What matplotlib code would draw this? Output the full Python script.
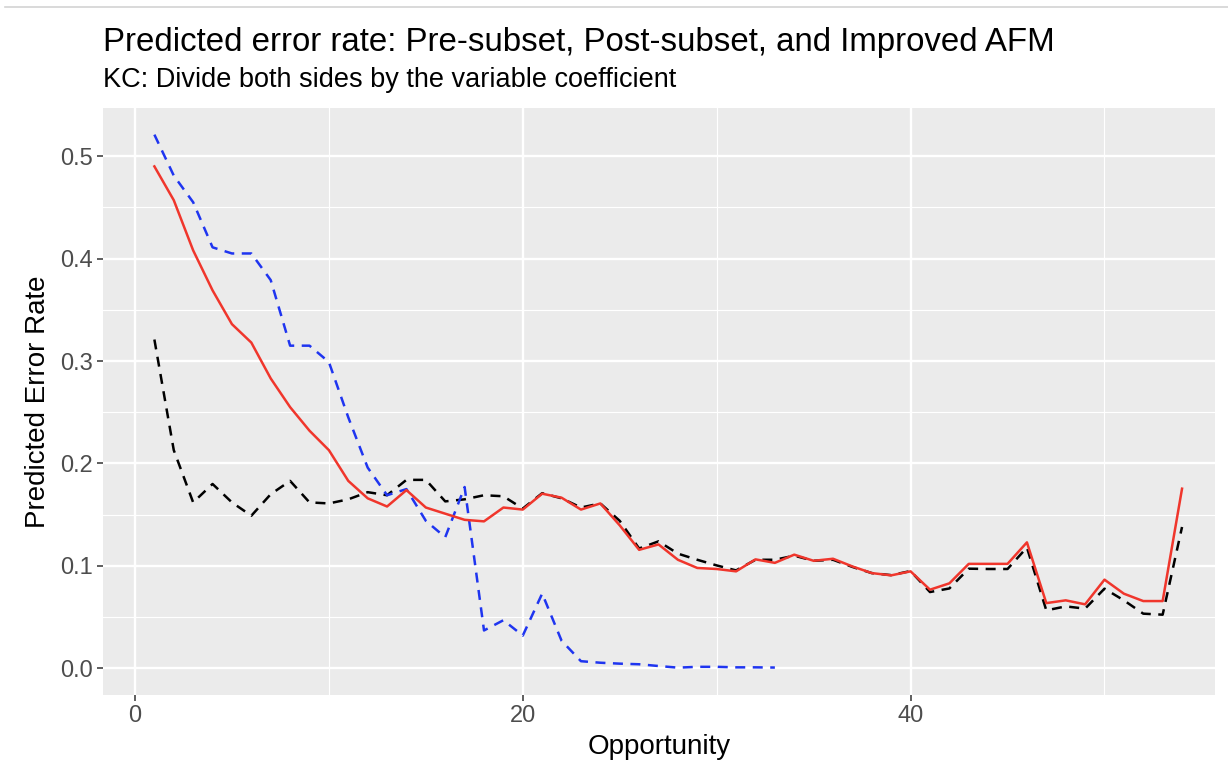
import matplotlib.pyplot as plt
from matplotlib.lines import Line2D
from matplotlib.ticker import MultipleLocator

plt.rcParams['font.family'] = ['Liberation Sans', 'DejaVu Sans']

# opportunity index for each series
opp_pre = list(range(1, 55))
opp_post = list(range(1, 34))
opp_imp = list(range(1, 55))

# pre-subset model (black dashed)
err_pre = [0.321, 0.213, 0.162, 0.180, 0.162, 0.149, 0.170, 0.183, 0.162, 0.161,
           0.165, 0.172, 0.169, 0.184, 0.184, 0.163, 0.165, 0.169, 0.168, 0.156,
           0.171, 0.166, 0.157, 0.161, 0.144, 0.117, 0.124, 0.112, 0.106, 0.1005,
           0.0956, 0.106, 0.106, 0.110, 0.105, 0.106, 0.099, 0.093, 0.091, 0.095,
           0.0745, 0.078, 0.0973, 0.097, 0.097, 0.118, 0.0566, 0.0605, 0.0583, 0.0778,
           0.0664, 0.0534, 0.0524, 0.138]

# post-subset model (blue dashed)
err_post = [0.521, 0.481, 0.455, 0.411, 0.405, 0.405, 0.379, 0.315, 0.315, 0.299,
            0.245, 0.196, 0.169, 0.175, 0.144, 0.128, 0.177, 0.037, 0.047, 0.032,
            0.073, 0.027, 0.007, 0.0055, 0.0046, 0.004, 0.0023, 0.0007, 0.0015, 0.0015,
            0.001, 0.001, 0.0008]

# improved AFM (red solid)
err_imp = [0.490, 0.457, 0.408, 0.369, 0.336, 0.318, 0.283, 0.255, 0.232, 0.213,
           0.183, 0.166, 0.158, 0.174, 0.157, 0.151, 0.145, 0.1435, 0.157, 0.155,
           0.1705, 0.1666, 0.155, 0.161, 0.1396, 0.1157, 0.121, 0.106, 0.098, 0.097,
           0.0947, 0.1064, 0.103, 0.111, 0.105, 0.107, 0.0995, 0.093, 0.0908, 0.0947,
           0.0768, 0.083, 0.102, 0.102, 0.102, 0.123, 0.0637, 0.0664, 0.0625, 0.0866,
           0.0729, 0.0657, 0.0657, 0.1754]

fig = plt.figure(figsize=(12.28, 7.67), dpi=100)
ax = fig.add_axes([103 / 1228, 1 - 695 / 767, (1215 - 103) / 1228, (695 - 108) / 767])

ax.set_facecolor('#EBEBEB')
for s in ax.spines.values():
    s.set_visible(False)

ax.xaxis.set_major_locator(MultipleLocator(20))
ax.xaxis.set_minor_locator(MultipleLocator(10))
ax.yaxis.set_major_locator(MultipleLocator(0.1))
ax.yaxis.set_minor_locator(MultipleLocator(0.05))
ax.grid(which='major', color='white', linewidth=1.7)
ax.grid(which='minor', color='white', linewidth=0.85)
ax.set_axisbelow(True)
ax.tick_params(which='minor', length=0)
ax.tick_params(which='major', length=4, width=1.1, color='#333333',
               labelcolor='#4D4D4D', labelsize=17, pad=3)

line_width = 1.8
ax.plot(opp_pre, err_pre, color='black', linewidth=line_width, linestyle=(0, (4, 3)))
ax.plot(opp_post, err_post, color='#1F35F0', linewidth=line_width, linestyle=(0, (4, 3)))
ax.plot(opp_imp, err_imp, color='#F0362C', linewidth=line_width)

ax.set_xlim(-1.65, 55.7)
ax.set_ylim(-0.026, 0.547)
ax.set_yticks([0.0, 0.1, 0.2, 0.3, 0.4, 0.5])
ax.set_yticklabels(['0.0', '0.1', '0.2', '0.3', '0.4', '0.5'])

ax.set_xlabel('Opportunity', fontsize=20, color='black', labelpad=5)
ax.set_ylabel('Predicted Error Rate', fontsize=20, color='black', labelpad=7)

fig.text(103 / 1228, 1 - 42 / 767, 'Predicted error rate: Pre-subset, Post-subset, and Improved AFM',
         fontsize=23.8, va='center', ha='left')
fig.text(103 / 1228, 1 - 80 / 767, 'KC: Divide both sides by the variable coefficient',
         fontsize=19.5, va='center', ha='left')

fig.add_artist(Line2D([5 / 1228, 1], [1 - 7 / 767, 1 - 7 / 767], color='#D3D3D3', linewidth=1.2))

fig.savefig('out.png', dpi=100)
